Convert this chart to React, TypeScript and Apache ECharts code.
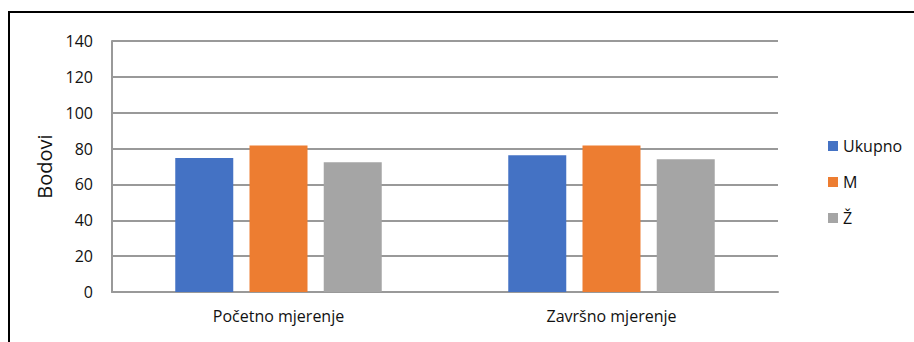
import React, { useEffect, useRef } from "react";
import * as echarts from "echarts";

const categories = ["Početno mjerenje", "Završno mjerenje"];
const seriesNames = ["Ukupno", "M", "Ž"];
const ukupno = [74.7, 76.3];
const muski = [81.7, 81.7];
const zenske = [72.4, 74.1];
const colors = ["#4472C4", "#ED7D31", "#A5A5A5"];
const yAxisName = "Bodovi";

export default function App() {
  const ref = useRef<HTMLDivElement>(null);
  useEffect(() => {
    if (!ref.current) return;
    const chart = echarts.init(ref.current, null, { renderer: "svg" });
    const font = "'Open Sans', sans-serif";
    const values = [ukupno, muski, zenske];
    chart.setOption({
      animation: false,
      backgroundColor: "#ffffff",
      textStyle: { fontFamily: font },
      graphic: [
        { type: "line", shape: { x1: 8, y1: 12, x2: 914, y2: 12 }, style: { stroke: "#000", lineWidth: 2 } },
        { type: "line", shape: { x1: 9, y1: 11, x2: 9, y2: 342 }, style: { stroke: "#000", lineWidth: 2 } },
      ],
      grid: { left: 112, top: 41, right: 136, bottom: 50, containLabel: false },
      legend: {
        orient: "vertical",
        left: 828,
        top: 138,
        padding: 0,
        itemWidth: 10,
        itemHeight: 10,
        itemGap: 20,
        icon: "rect",
        data: seriesNames,
        textStyle: { fontFamily: font, fontSize: 16, color: "#111", lineHeight: 16 },
      },
      xAxis: {
        type: "category",
        data: categories,
        axisLine: { show: true, lineStyle: { color: "#999", width: 2 } },
        axisTick: { show: false },
        axisLabel: { fontFamily: font, fontSize: 16, color: "#111", margin: 16 },
      },
      yAxis: {
        type: "value",
        min: 0,
        max: 140,
        interval: 20,
        name: yAxisName,
        nameLocation: "middle",
        nameGap: 58,
        nameTextStyle: { fontFamily: font, fontSize: 20, color: "#111" },
        axisLine: { show: true, lineStyle: { color: "#999", width: 2 } },
        axisTick: { show: false },
        axisLabel: { fontFamily: font, fontSize: 16, color: "#111", margin: 19 },
        splitLine: { show: true, lineStyle: { color: "#999", width: 2 } },
      },
      series: seriesNames.map((n, i) => ({
        name: n,
        type: "bar",
        data: values[i],
        barWidth: 58,
        barGap: "28%",
        itemStyle: { color: colors[i] },
      })),
    });
    return () => chart.dispose();
  }, []);
  return (
    <div
      ref={ref}
      style={{ position: "fixed", left: 0, top: 0, width: 914, height: 342, background: "#fff" }}
    />
  );
}
